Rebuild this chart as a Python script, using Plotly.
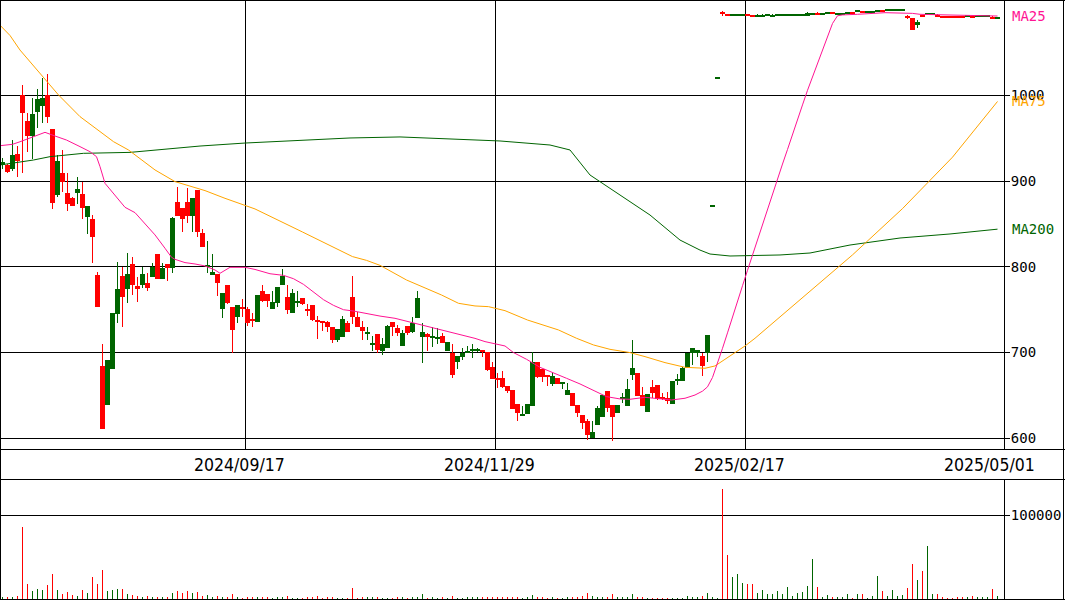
import plotly.graph_objects as go

# ---------------- data ----------------
# daily OHLC (one entry per trading day, oldest first)
opens = [920, 918.5, 914, 931.7, 1000, 970, 952.7, 981, 987.7, 1000.6,
         961, 884, 910, 886.6, 880.7, 886.6, 885, 858.6, 855.8, 790.5,
         684.3, 638.8, 680.8, 745, 789.3, 774.5, 803.4, 777.7, 778.9, 780.9,
         788.6, 815.1, 786.3, 803, 799.1, 875.4, 868.4, 876.1, 859.8, 889.8,
         839.2, 800.3, 790.6, 791.3, 751.3, 778.9, 753.6, 741.9, 752.8, 750.5,
         738.8, 735.4, 772.4, 768.5, 750.6, 758.4, 779.4, 765.4, 746, 758,
         763.8, 751, 756, 737, 736.6, 735.4, 730.4, 715.2, 717.9, 734.3,
         765.4, 742, 730.4, 722.2, 709.4, 722, 702.2, 705, 736.1, 729.1,
         708.1, 731, 723.6, 740, 717.8, 721.7, 717.4, 716.6, 719.4, 702.2,
         699.9, 689.4, 695.2, 699.1, 701.9, 702.6, 703, 701.1, 682.8, 670,
         670, 661, 656.4, 640, 626, 628.4, 638.1, 689, 680.5, 673.1,
         663.4, 670, 663.8, 650.5, 653.3, 638.9, 627.2, 620.6, 600, 615.5,
         625.3, 655.2, 638.9, 629.9, 646.7, 637.7, 673.9, 675.8, 650.5, 631.1,
         660.3, 662.2, 647, 646.7, 640, 667.3, 667.3, 681.7, 700, 700,
         696, 700, 870, 1020, 1096.2, 1094.3, 1093.4, 1093.4, 1093.4, 1093.6,
         1093.5, 1092.7, 1092.7, 1093, 1092.7, 1093, 1093, 1093.8, 1093.8, 1093.8,
         1093.8, 1093.5, 1094.3, 1096.6, 1095, 1094.7, 1097.4, 1095, 1095, 1095,
         1097.4, 1097.7, 1098.6, 1097.3, 1097.2, 1097.9, 1099.7, 1099.6, 1099.6, 1099.6,
         1099.6, 1091.4, 1090, 1082.2, 1093.5, 1094.2, 1094.2, 1094.3, 1092.7, 1092.7,
         1092.7, 1092.7, 1092.7, 1092.3, 1092.7, 1092.2, 1092.2, 1092.2, 1092, 1090.2]
highs = [927, 920, 948, 941, 1012, 979, 996.7, 1008, 1020, 1025,
         961, 930.5, 936, 910, 881, 905, 899.4, 871, 860.5, 793.6,
         710, 691.3, 745.8, 806, 800.2, 815.8, 812, 788.6, 800.3, 793.3,
         804.2, 815.1, 804, 803, 858.6, 893.6, 868.4, 891.7, 880, 890,
         843.9, 830.2, 815.1, 791.3, 770, 779, 753.6, 755.6, 762.2, 753.6,
         745.8, 767.7, 779.4, 768.5, 772.4, 777, 797.7, 779.4, 774.3, 772.4,
         764, 756.8, 756, 743.2, 736.6, 737.4, 730.4, 727.6, 743.2, 737.4,
         789.9, 747.1, 737.4, 729.6, 719.9, 722, 716.6, 732.2, 736.1, 732.2,
         726.4, 731, 741.2, 772.3, 734.2, 722.5, 730.3, 728.3, 722.5, 712.7,
         710, 696, 705, 707.7, 710, 705, 703, 701.1, 689.4, 675.8,
         678, 661, 656.4, 640, 637.7, 640, 701.1, 689, 680.5, 673.1,
         677.8, 670, 666.1, 665, 653.3, 639, 627.2, 622.1, 620.6, 637.7,
         650.5, 655.2, 639, 639, 652.5, 668.8, 714.7, 676, 659.5, 652,
         668, 662.2, 653.3, 654.4, 667.3, 675, 682.8, 700, 705, 703,
         699.2, 720, 870, 1020, 1098.2, 1094.5, 1094, 1094, 1094, 1093.8,
         1093.6, 1095, 1095, 1093.3, 1095, 1095, 1095, 1094.2, 1094.2, 1094.2,
         1094.2, 1097, 1096, 1097.8, 1095.4, 1097.6, 1097.6, 1095.4, 1095.4, 1097.6,
         1097.6, 1098.1, 1098.9, 1097.7, 1098.8, 1098.3, 1100, 1100, 1100, 1100,
         1100, 1093.9, 1090, 1088, 1093.8, 1094.5, 1094.5, 1094.5, 1093, 1093,
         1093, 1093, 1093, 1093, 1093, 1092.6, 1092.6, 1092.6, 1092.3, 1091]
lows = [914, 909, 912, 904.5, 909, 934.4, 925.5, 961.7, 967.5, 967.5,
        867, 881.9, 887.7, 865.6, 871, 873.4, 855.8, 838.3, 804.9, 753.5,
        610.4, 638.8, 680.8, 734.1, 730.2, 757.4, 767.2, 759.4, 775, 772.3,
        787.8, 786.3, 786, 784, 792.5, 859.8, 841.1, 850.9, 841.1, 835.3,
        822.9, 792.5, 790.6, 766, 740, 756.7, 699.9, 734.1, 741.9, 731,
        730.2, 735.4, 758.8, 753, 750.6, 753, 779.4, 745.2, 746, 753,
        756, 743.2, 736.6, 715.6, 725.7, 724.5, 710.9, 712.1, 717.9, 723.8,
        733.5, 729.6, 715.2, 715.2, 701.6, 699.3, 697.2, 705, 719.4, 719.4,
        708.1, 720.5, 722.5, 740, 687.5, 702.2, 706.9, 709.6, 710.8, 702.2,
        670, 680.5, 691.4, 699, 693.3, 701, 695.2, 679, 669.2, 658.3,
        659, 653.3, 634, 620.6, 625.6, 628.4, 638, 670, 665.3, 661,
        661, 663, 657.5, 650.5, 638, 625.3, 610.9, 598, 600, 615.5,
        624.5, 631.1, 597.3, 629.9, 641.6, 637.7, 668, 650, 637.7, 631,
        646.7, 644.7, 644.7, 640, 640, 662.2, 667.3, 681.7, 685.6, 695.3,
        672.7, 689.4, 870, 1020, 1093.1, 1093.3, 1093, 1093, 1093, 1093,
        1091.6, 1092.5, 1092.5, 1092.8, 1092.5, 1092.5, 1092.5, 1093.5, 1093.5, 1093.5,
        1093.5, 1093.3, 1094, 1094, 1094.8, 1094.5, 1094.5, 1094.8, 1094.8, 1094.8,
        1094.8, 1097.5, 1096.4, 1097, 1097, 1097.6, 1097.6, 1099.4, 1099.4, 1099.4,
        1099.4, 1088.8, 1076, 1078.3, 1092.1, 1094, 1094, 1091.8, 1091, 1091,
        1091, 1091, 1091, 1092.1, 1091, 1092, 1092, 1092, 1089.8, 1090]
closes = [922, 911, 930.5, 924, 980, 952.7, 978.4, 995.5, 996.7, 975.3,
          875, 923.5, 899.4, 873.4, 871.4, 891, 869, 871, 835.2, 753.5,
          610.4, 691.3, 745.8, 773.8, 764.8, 791.7, 778.9, 774.6, 791.7, 775.8,
          800.3, 786.3, 799.1, 798.4, 856.7, 859.8, 855.5, 859.8, 880, 840.4,
          822.9, 802.2, 793.7, 780.9, 769.9, 758.3, 726.4, 755.6, 751.7, 734.9,
          738, 767.7, 760.7, 760, 758.8, 777, 789.9, 750.2, 769.3, 758.8,
          756.8, 748.3, 738.5, 736.2, 734.7, 729.6, 715.2, 727.6, 739.3, 723.8,
          741.3, 729.6, 724.9, 723, 710.2, 702.5, 710, 731, 730.3, 722.5,
          723.3, 722.5, 734.9, 764.1, 724.4, 717.8, 718.2, 717, 710.8, 711.9,
          673.8, 696, 699.1, 702.2, 702.6, 703.4, 700.3, 679.7, 669.2, 668.8,
          659.5, 655.6, 634.2, 629.1, 627.2, 640, 689.4, 671.9, 671.9, 671.9,
          673.1, 663.4, 664.5, 656.4, 638.1, 629.9, 618.3, 603.9, 607.7, 635,
          650.5, 635, 624.5, 638.9, 647.8, 657.2, 681.7, 649.8, 637.7, 651.7,
          653.3, 645.5, 645.9, 643.9, 667.3, 668.4, 681.7, 700, 705, 703,
          684.4, 720, 870, 1020, 1095.4, 1093.5, 1093.6, 1093.6, 1093.6, 1093.2,
          1091.8, 1093.1, 1093.1, 1093.2, 1093.1, 1093.2, 1093.2, 1094, 1094, 1094,
          1094, 1095.8, 1095.8, 1094.3, 1095.2, 1097.4, 1094.7, 1095.2, 1095.2, 1097.4,
          1095, 1097.9, 1096.6, 1097.5, 1098.6, 1098.1, 1097.8, 1099.8, 1099.8, 1099.8,
          1099.8, 1091, 1076.4, 1086.1, 1092.3, 1094.4, 1094.4, 1092, 1091.2, 1091.2,
          1091.2, 1091.2, 1091.2, 1092.7, 1091.2, 1092.4, 1092.4, 1092.4, 1090, 1090.6]

volumes = [1200, 2400, 2400, 3600, 85700, 17900, 9500, 11900, 10700, 16700,
           29800, 10700, 6000, 8300, 4800, 3600, 10700, 7100, 26200, 17900,
           34500, 9500, 10700, 11900, 11900, 6000, 4800, 3600, 2400, 3600,
           2400, 1200, 1200, 2400, 7100, 9500, 7100, 9500, 7100, 8300,
           3600, 4800, 2400, 3600, 2400, 1200, 6000, 1200, 400, 2400,
           1200, 1200, 1200, 1200, 400, 1200, 1200, 3600, 400, 400,
           400, 1200, 1200, 3600, 400, 1200, 1200, 400, 400, 400,
           13100, 400, 2400, 1200, 1200, 1200, 400, 400, 400, 1200,
           1200, 400, 1200, 2400, 6000, 400, 1200, 400, 1200, 400,
           3600, 400, 400, 1200, 1200, 1200, 1200, 1200, 1200, 1200,
           1200, 2400, 2400, 2400, 400, 1200, 4800, 2400, 1200, 400,
           1200, 400, 400, 1200, 1200, 2400, 3600, 7100, 3600, 2400,
           2400, 1200, 6000, 1200, 1200, 2400, 6000, 2400, 1200, 300,
           300, 300, 300, 300, 300, 300, 300, 3600, 2400, 1200,
           3600, 7100, 1200, 200, 131000, 52400, 26200, 29800, 19000, 17900,
           17900, 7100, 10700, 6000, 6000, 9500, 6000, 14300, 3600, 7100,
           8300, 15500, 47600, 14300, 2400, 4800, 1200, 1200, 1200, 6000,
           400, 6000, 6000, 400, 3600, 27400, 9500, 3600, 10700, 3600,
           4800, 13100, 41700, 22600, 33300, 63100, 6000, 6000, 1200, 400,
           400, 1200, 2400, 1200, 3600, 1200, 1200, 1200, 11900, 3600]

# moving averages: (day position, value) pairs
ma25_pos = [-0.5, 2, 3.5, 6.2, 8.5, 10.5, 12.8, 15.5, 17.5, 18.8, 19.5, 20.5, 22.2,
            24.5, 26.5, 28.5, 30.5, 32.5, 33.8, 34.5, 36.5, 38.5, 40.5, 42.5, 43.5,
            45.5, 48.5, 50.5, 53.5, 56.2, 58.2, 60.2, 62.2, 64.2, 66.2, 68.2, 70.2,
            72.2, 75.5, 78.5, 82.5, 86.5, 90.5, 94.5, 96.5, 98.5, 100.5, 102.2, 104.8,
            107.5, 110.2, 112.8, 115.5, 118.2, 120.8, 123.5, 125.5, 128.5, 131.2, 133.8,
            136.5, 138.5, 140, 141, 142, 143, 144, 145, 146, 147, 148, 149, 150, 151,
            152, 153, 154, 155, 156, 157, 158, 159, 160, 161, 162, 163, 164, 165, 166,
            167, 168, 171, 175.5, 176.5, 182, 183.5, 189.5, 196, 199]
ma25_val = [941.4, 943, 946, 952, 957, 952.7, 948, 940.3, 934.4, 928.6, 917, 897.5, 885.8,
            869.5, 863.3, 850.9, 837.3, 821.7, 811.2, 808.8, 805, 803.4, 801.1, 796.4, 792.5,
            799.5, 799.5, 797, 792, 790.1, 786.2, 779.6, 770.6, 761.7, 755.1, 750, 748.5,
            746.1, 742.6, 740, 734.2, 728.3, 722.5, 716.6, 712.8, 710, 707.7, 700, 692.2,
            682.8, 676.6, 670, 663.4, 655.6, 648.6, 645.9, 645.5, 647.8, 645.9, 644.7,
            646.7, 650.5, 655, 660, 671, 687, 705, 723, 742, 760, 778, 796, 814, 830,
            848, 866, 884, 902, 920, 937, 955, 972, 989, 1006, 1022, 1037, 1053, 1069, 1084,
            1093, 1094, 1094.7, 1095.8, 1096.6, 1095.8, 1094.7, 1093.9, 1093.1, 1092.7]

ma75_pos = [-0.5, 1.5, 3.5, 5.2, 7.5, 11.2, 15.5, 19.5, 22.2, 25.2, 30.5, 34.5, 37.8,
            40.5, 44.5, 48.5, 50.5, 60, 70, 72.8, 75.5, 80.8, 87.8, 91.2, 94.5, 97.2,
            100.5, 105, 111.2, 114.8, 118.2, 121.5, 125.5, 128.5, 132.5, 136.5, 140.5,
            142.5, 144.5, 146.5, 148.5, 150.5, 160, 170, 180, 190, 199]
ma75_val = [1082, 1070, 1053, 1041.4, 1025, 1000.6, 975.3, 957.8, 946.1, 936.4, 913.1,
            899.5, 893.6, 889, 880, 872.3, 867.6, 840.7, 812, 807.6, 801.8, 784.7, 767.2,
            757.5, 754.4, 753.6, 748.9, 738, 726.4, 716.7, 708.9, 703.8, 700, 695.3, 688.3,
            682.8, 681.7, 684.4, 692.2, 699.2, 707.7, 716.7, 764, 814, 868, 928, 993]

ma200_pos = [-0.5, 6.2, 9.5, 16.2, 25.5, 39.5, 48.5, 59.5, 69.5, 79.5, 89.5, 99.5,
             109.5, 113.5, 117.5, 123.5, 129.5, 135.5, 139.5, 141.5, 145.5, 155.5,
             161.5, 169.5, 179.5, 189.5, 199]
ma200_val = [918.9, 924.7, 928.6, 932.5, 933.6, 941, 944.5, 948, 950.4, 951.6, 949.3,
             946.9, 942.2, 936.4, 907.2, 883.9, 860.5, 831.3, 819.6, 815, 812.7, 813.9,
             816.2, 825.5, 833.7, 838.4, 844]

price_ticks = [600, 700, 800, 900, 1000]
volume_ticks = [100000]
date_grid = [48.5, 98.5, 148.5]
date_label_pos = [48.5, 98.5, 148.5, 198.5]
date_labels = ["2024/09/17", "2024/11/29", "2025/02/17", "2025/05/01"]

# ---------------- styling ----------------
W, H = 1065, 600
AXIS_PX = 1004          # x pixel of the right-hand price axis
MAIN_BOTTOM_PX = 449    # bottom of the candle panel
VOL_TOP_PX = 479        # top of the volume panel
UP = "#006400"
DOWN = "#ff0000"
C_MA25 = "#ff1493"
C_MA75 = "#ffa500"
C_MA200 = "#006400"
MONO = "DejaVu Sans Mono"
NARROW = "Liberation Sans Narrow, DejaVu Sans Condensed, sans-serif"


def fx(px):
    return px / W


def fy(py):
    return 1 - py / H


n = len(closes)
days = list(range(n))
col = [UP if c >= o else DOWN for o, c in zip(opens, closes)]
MIN_BODY = 1.2

fig = go.Figure()

# wicks
fig.add_trace(go.Bar(
    x=days, base=lows, y=[h - l for h, l in zip(highs, lows)],
    width=0.2, marker=dict(color=col, line=dict(width=0)),
    xaxis="x", yaxis="y", hoverinfo="skip", showlegend=False))
# bodies
fig.add_trace(go.Bar(
    x=days, base=[min(o, c) for o, c in zip(opens, closes)],
    y=[max(abs(c - o), MIN_BODY) for o, c in zip(opens, closes)],
    width=1.0, marker=dict(color=col, line=dict(width=0)),
    xaxis="x", yaxis="y", hoverinfo="skip", showlegend=False))

for pos, val, c in ((ma200_pos, ma200_val, C_MA200),
                    (ma75_pos, ma75_val, C_MA75),
                    (ma25_pos, ma25_val, C_MA25)):
    fig.add_trace(go.Scatter(x=pos, y=val, mode="lines",
                             line=dict(color=c, width=1),
                             xaxis="x", yaxis="y", hoverinfo="skip", showlegend=False))

# volume
fig.add_trace(go.Bar(
    x=days, y=volumes, width=0.2, marker=dict(color=col, line=dict(width=0)),
    xaxis="x2", yaxis="y2", hoverinfo="skip", showlegend=False))

xr = [-0.5, -0.5 + AXIS_PX / 5]
common_x = dict(range=xr, domain=[0, fx(AXIS_PX)], showline=False, zeroline=False,
                showticklabels=False, ticks="", fixedrange=True)
fig.update_layout(
    width=W, height=H, margin=dict(l=0, r=0, t=0, b=0),
    paper_bgcolor="white", plot_bgcolor="white",
    barmode="overlay", bargap=0, bargroupgap=0, showlegend=False,
    xaxis=dict(**common_x, anchor="y", tickmode="array", tickvals=date_grid,
               showgrid=True, gridcolor="black", gridwidth=1),
    yaxis=dict(domain=[fy(MAIN_BOTTOM_PX), 1], range=[587.5, 1111.4], side="right",
               anchor="x", tickmode="array", tickvals=price_ticks,
               ticktext=[str(v) for v in price_ticks],
               showgrid=True, gridcolor="black", gridwidth=1, zeroline=False,
               ticks="outside", ticklen=5, tickcolor="black", tickwidth=1,
               ticklabelstandoff=-2,
               tickfont=dict(family=MONO, size=14, color="black"), fixedrange=True),
    xaxis2=dict(**common_x, anchor="y2", showgrid=False),
    yaxis2=dict(domain=[0, fy(VOL_TOP_PX)], range=[-1190, 142857], side="right",
                anchor="x2", tickmode="array", tickvals=volume_ticks,
                ticktext=[str(v) for v in volume_ticks],
                showgrid=True, gridcolor="black", gridwidth=1, zeroline=False,
                ticks="outside", ticklen=5, tickcolor="black", tickwidth=1,
                ticklabelstandoff=-2,
                tickfont=dict(family=MONO, size=14, color="black"), fixedrange=True),
)

# frame lines
line = dict(color="black", width=1)
shapes = [
    dict(type="line", xref="paper", yref="paper", x0=fx(0.5), x1=fx(0.5), y0=fy(0), y1=fy(600), line=line),
    dict(type="line", xref="paper", yref="paper", x0=fx(1063.5), x1=fx(1063.5), y0=fy(0), y1=fy(600), line=line),
    dict(type="line", xref="paper", yref="paper", x0=fx(0), x1=fx(1065), y0=fy(0.5), y1=fy(0.5), line=line),
    dict(type="line", xref="paper", yref="paper", x0=fx(0), x1=fx(1065), y0=fy(599.5), y1=fy(599.5), line=line),
    dict(type="line", xref="paper", yref="paper", x0=fx(0), x1=fx(1065), y0=fy(MAIN_BOTTOM_PX + 0.5), y1=fy(MAIN_BOTTOM_PX + 0.5), line=line),
    dict(type="line", xref="paper", yref="paper", x0=fx(0), x1=fx(1065), y0=fy(VOL_TOP_PX + 0.5), y1=fy(VOL_TOP_PX + 0.5), line=line),
    dict(type="line", xref="paper", yref="paper", x0=fx(AXIS_PX + 0.5), x1=fx(AXIS_PX + 0.5), y0=fy(0), y1=fy(MAIN_BOTTOM_PX), line=line),
    dict(type="line", xref="paper", yref="paper", x0=fx(AXIS_PX + 0.5), x1=fx(AXIS_PX + 0.5), y0=fy(VOL_TOP_PX), y1=fy(600), line=line),
]
fig.update_layout(shapes=shapes)

annotations = []
for pos, txt in zip(date_label_pos, date_labels):
    annotations.append(dict(x=pos, xref="x", y=fy((MAIN_BOTTOM_PX + VOL_TOP_PX) / 2 + 1), yref="paper",
                            text=txt, showarrow=False, xanchor="center", yanchor="middle",
                            xshift=-5.5, font=dict(family=NARROW, size=17.5, color="black")))
for name, vals, c in (("MA25", ma25_val, C_MA25), ("MA75", ma75_val, C_MA75), ("MA200", ma200_val, C_MA200)):
    annotations.append(dict(x=fx(1010), xref="paper", y=vals[-1], yref="y", text=name,
                            showarrow=False, xanchor="left", yanchor="middle",
                            font=dict(family=MONO, size=14, color=c)))
fig.update_layout(annotations=annotations)

fig.write_html("out.html")
